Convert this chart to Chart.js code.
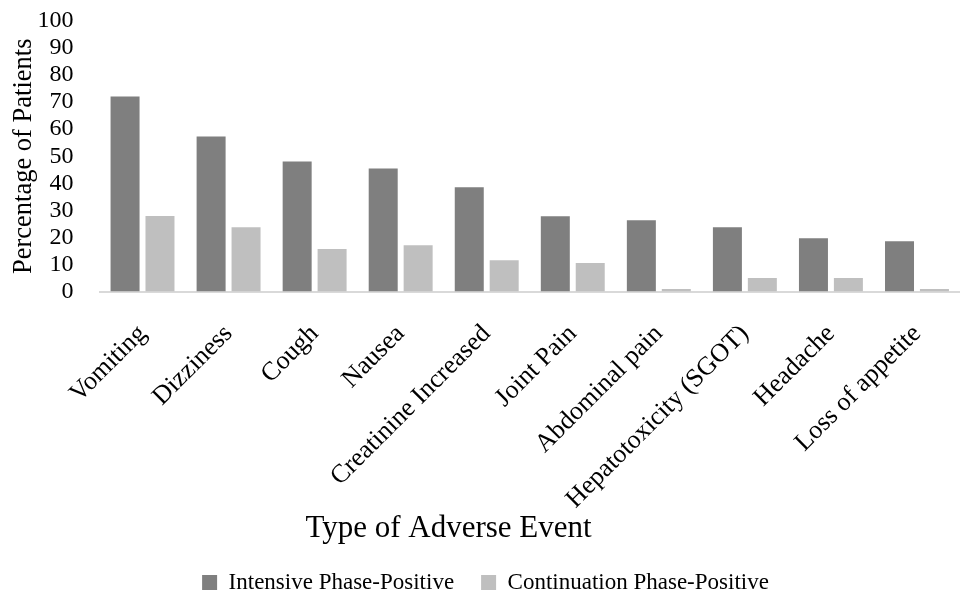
<!DOCTYPE html>
<html lang="en">
<head>
<meta charset="UTF-8">
<title>Adverse Events by Treatment Phase</title>
<style>
    html, body { margin: 0; padding: 0; background: #fff; }
    #wrap { width: 960px; height: 596px; }
</style>
</head>
<body>

<div id="wrap"><canvas id="events-chart"></canvas></div>

<script src="https://cdn.jsdelivr.net/npm/chart.js"></script>

<script>
    const eventTypes = ['Vomiting', 'Dizziness', 'Cough', 'Nausea', 'Creatinine Increased',
        'Joint Pain', 'Abdominal pain', 'Hepatotoxicity (SGOT)', 'Headache', 'Loss of appetite'];
    const intensivePositive = [72.1, 57.3, 48.1, 45.5, 38.5, 27.8, 26.3, 23.8, 19.7, 18.6];
    const continuationPositive = [27.9, 23.8, 15.7, 17.1, 11.6, 10.5, 0.9, 5.0, 5.0, 0.9];
    const yTicks = [0, 10, 20, 30, 40, 50, 60, 70, 80, 90, 100];

    const serif = "'Liberation Serif', 'Times New Roman', serif";

    // Chart.js reserves the tick padding twice; keep it only between labels and axis
    function trimTickPadding(axis) {
        const pad = axis.options.ticks.padding;
        if (axis.isHorizontal()) {
            axis.height -= pad;
            axis.paddingLeft = 0;
            axis.paddingRight = 0;
        } else {
            axis.width -= pad;
            axis.paddingTop = 0;
            axis.paddingBottom = 0;
        }
    }

    // the axis title sits a little left of the page centre
    const titleOffset = {
        id: 'titleOffset',
        afterLayout(chart) {
            if (chart.titleBlock) chart.titleBlock.left -= 74;
        }
    };

    const ctx = document.getElementById('events-chart').getContext('2d');
    const chart = new Chart(ctx, {
        type: 'bar',
        data: {
            labels: eventTypes,
            datasets: [{
                label: 'Intensive Phase-Positive',
                data: intensivePositive,
                backgroundColor: '#7f7f7f'
            }, {
                label: 'Continuation Phase-Positive',
                data: continuationPositive,
                backgroundColor: '#bfbfbf'
            }]
        },
        plugins: [titleOffset],
        options: {
            responsive: true,
            maintainAspectRatio: false,
            animation: false,
            categoryPercentage: 0.812,
            barPercentage: 0.83,
            layout: { padding: { top: 21, left: 11, right: 0, bottom: 0 } },
            scales: {
                x: {
                    grid: { display: false, drawTicks: false },
                    border: { display: true, color: '#d9d9d9', width: 2 },
                    afterFit: trimTickPadding,
                    ticks: {
                        color: '#000',
                        font: { family: serif, size: 26, lineHeight: 1 },
                        minRotation: 45,
                        maxRotation: 45,
                        padding: 29,
                        autoSkip: false
                    }
                },
                y: {
                    min: 0,
                    max: 100,
                    grid: { display: false, drawTicks: false },
                    border: { display: false },
                    afterBuildTicks: axis => { axis.ticks = yTicks.map(v => ({ value: v })); },
                    afterFit: trimTickPadding,
                    ticks: {
                        color: '#000',
                        font: { family: serif, size: 24 },
                        padding: 26,
                        autoSkip: false
                    },
                    title: {
                        display: true,
                        text: 'Percentage of Patients',
                        color: '#000',
                        font: { family: serif, size: 26.5, lineHeight: 1 },
                        padding: { top: 0, bottom: 0 }
                    }
                }
            },
            plugins: {
                tooltip: { enabled: false },
                title: {
                    display: true,
                    position: 'bottom',
                    weight: 500,
                    text: 'Type of Adverse Event',
                    color: '#000',
                    font: { family: serif, size: 31, weight: 'normal', lineHeight: 1 },
                    padding: { top: 0, bottom: 0 }
                },
                legend: {
                    position: 'bottom',
                    // wide padding spaces the two entries apart; the cap keeps the block short
                    maxHeight: 52,
                    labels: {
                        color: '#000',
                        font: { family: serif, size: 23 },
                        boxWidth: 15,
                        boxHeight: 15,
                        padding: 27
                    }
                }
            }
        }
    });
</script>

</body>
</html>
